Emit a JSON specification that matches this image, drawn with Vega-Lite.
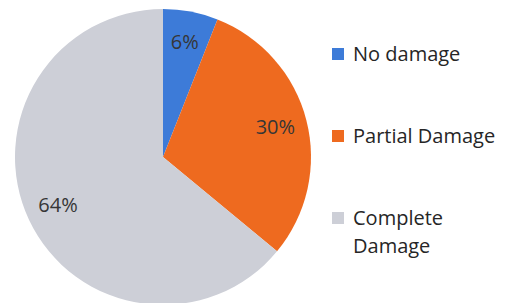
{
  "$schema": "https://vega.github.io/schema/vega-lite/v6.json",
  "width": 316,
  "height": 304,
  "padding": 5,
  "background": "white",
  "config": {
    "style": {
      "guide-label": {"lineHeight": 28, "dy": 7}
    }
  },
  "data": {
    "values": [
      {"category": "No damage", "share": 6, "label": "6%", "idx": 1},
      {"category": "Partial Damage", "share": 30, "label": "30%", "idx": 2},
      {"category": "Complete Damage", "share": 64, "label": "64%", "idx": 3}
    ]
  },
  "encoding": {
    "theta": {"field": "share", "type": "quantitative", "stack": true},
    "order": {"field": "idx", "type": "quantitative"}
  },
  "layer": [
    {
      "mark": {"type": "arc", "outerRadius": 148, "stroke": null},
      "encoding": {
        "color": {
          "field": "category",
          "type": "nominal",
          "sort": ["No damage", "Partial Damage", "Complete Damage"],
          "scale": {
            "domain": ["No damage", "Partial Damage", "Complete Damage"],
            "range": ["#3d7bd8", "#ee6a1f", "#cdcfd7"]
          },
          "legend": {
            "title": null,
            "orient": "none",
            "legendX": 323,
            "legendY": 39,
            "symbolType": "square",
            "symbolSize": 144,
            "symbolStrokeWidth": 0,
            "labelFont": "Open Sans",
            "labelFontSize": 20,
            "labelColor": "#262626",
            "labelOffset": 5,
            "labelLimit": 200,
            "rowPadding": 61,
            "labelBaseline": "alphabetic",
            "labelExpr": "datum.label == 'Complete Damage' ? ['Complete', 'Damage'] : datum.label"
          }
        }
      }
    },
    {
      "mark": {"type": "text", "radius": 116, "font": "Open Sans", "fontSize": 20, "color": "#363636"},
      "encoding": {
        "text": {"field": "label", "type": "nominal"}
      }
    }
  ]
}
